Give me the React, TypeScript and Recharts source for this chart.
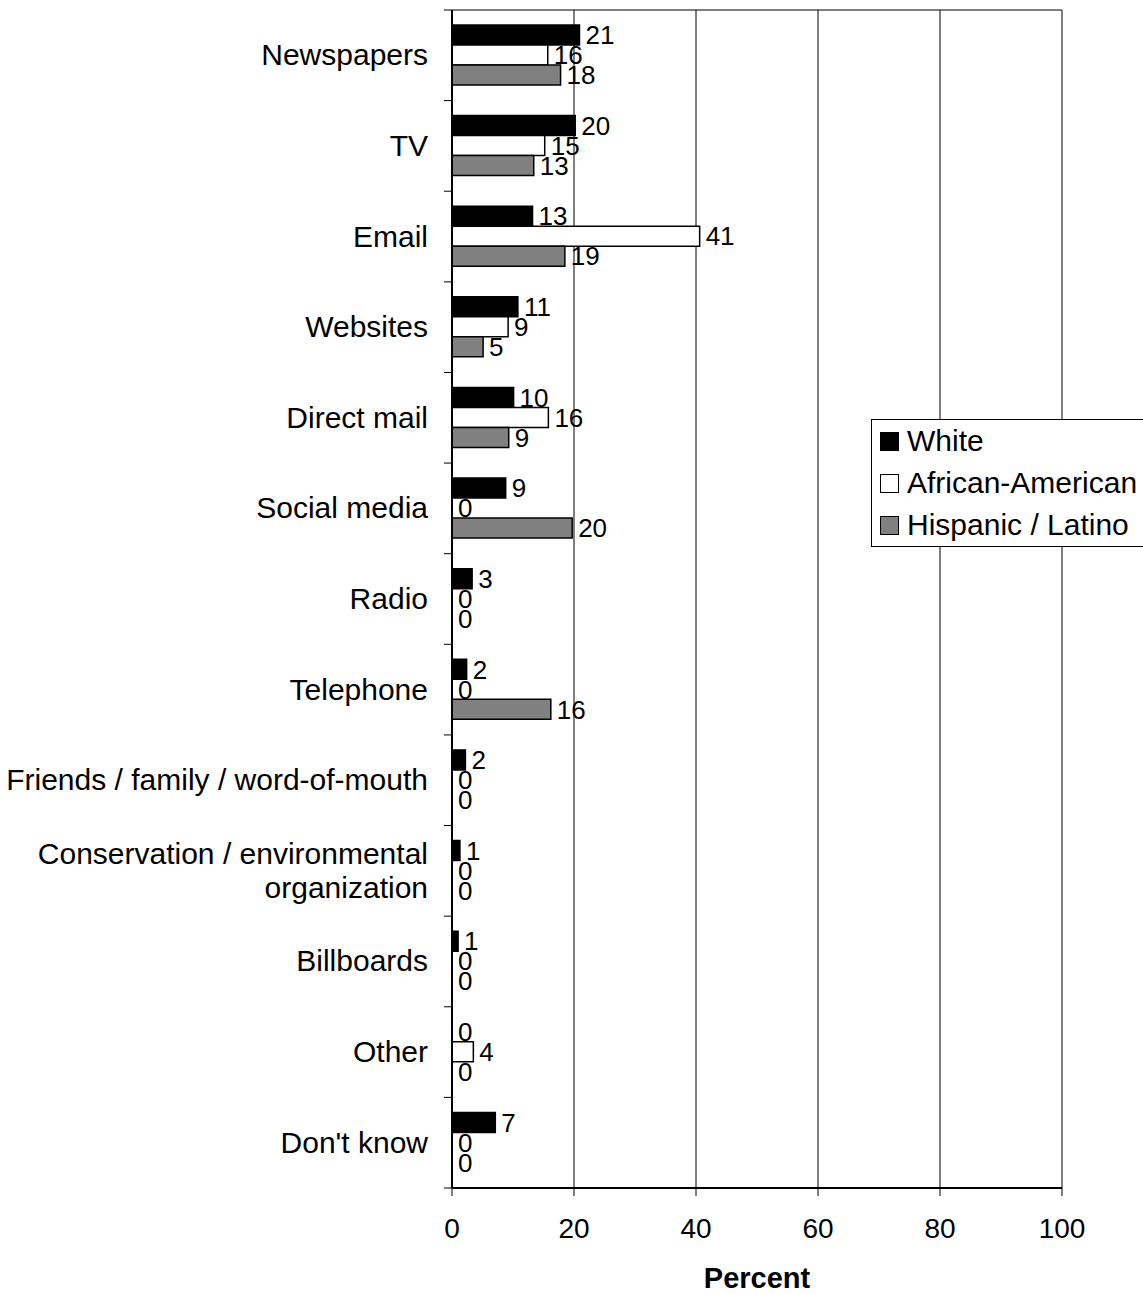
import React from "react";
import {
  BarChart,
  Bar,
  XAxis,
  YAxis,
  CartesianGrid,
  Legend,
  LabelList,
} from "recharts";

const categories = [
  "Newspapers",
  "TV",
  "Email",
  "Websites",
  "Direct mail",
  "Social media",
  "Radio",
  "Telephone",
  "Friends / family / word-of-mouth",
  "Conservation / environmental\norganization",
  "Billboards",
  "Other",
  "Don't know",
];

const white = [20.9, 20.2, 13.2, 10.8, 10.1, 8.8, 3.3, 2.4, 2.2, 1.3, 1.0, 0, 7.1];
const africanAmerican = [15.7, 15.2, 40.6, 9.2, 15.8, 0, 0, 0, 0, 0, 0, 3.5, 0];
const hispanicLatino = [17.8, 13.4, 18.5, 5.1, 9.3, 19.7, 0, 16.2, 0, 0, 0, 0, 0];

const xTicks = [0, 20, 40, 60, 80, 100];

const seriesDefs = [
  { key: "white", name: "White", fill: "#000000" },
  { key: "african", name: "African-American", fill: "#ffffff" },
  { key: "hispanic", name: "Hispanic / Latino", fill: "#808080" },
];

const data = categories.map((c, i) => ({
  category: c,
  white: white[i],
  african: africanAmerican[i],
  hispanic: hispanicLatino[i],
}));

const FONT = "'Liberation Sans', Arial, Helvetica, sans-serif";
const W = 1143;
const H = 1294;
const MARGIN = { top: 10, right: 81, bottom: 0, left: 0 };
const Y_WIDTH = 452;
const X_HEIGHT = 106;
const PLOT_LEFT = MARGIN.left + Y_WIDTH;
const PLOT_HEIGHT = H - MARGIN.top - MARGIN.bottom - X_HEIGHT;
const BAND = PLOT_HEIGHT / categories.length;

const CategoryTick = (props: any) => {
  const { x, y, payload, index } = props;
  const lines = String(payload.value).split("\n");
  const lh = 34;
  return (
    <g>
      <line x1={PLOT_LEFT - 8} x2={PLOT_LEFT} y1={y - BAND / 2} y2={y - BAND / 2} stroke="#000" strokeWidth={1} />
      {index === categories.length - 1 && (
        <line x1={PLOT_LEFT - 8} x2={PLOT_LEFT} y1={y + BAND / 2} y2={y + BAND / 2} stroke="#000" strokeWidth={1} />
      )}
      <text x={x} y={y} textAnchor="end" fontFamily={FONT} fontSize={30} fill="#000">
        {lines.map((l, i) => (
          <tspan key={i} x={x} y={y + (i - (lines.length - 1) / 2) * lh + 10}>
            {l}
          </tspan>
        ))}
      </text>
    </g>
  );
};

const LegendContent = () => (
  <div
    style={{
      border: "1px solid #000",
      background: "#fff",
      fontFamily: FONT,
      fontSize: 30,
      color: "#000",
      width: 290,
      boxSizing: "border-box",
    }}
  >
    {seriesDefs.map((s) => (
      <div key={s.key} style={{ height: 42, display: "flex", alignItems: "center", whiteSpace: "nowrap" }}>
        <span
          style={{
            display: "inline-block",
            width: 17,
            height: 17,
            marginLeft: 8,
            marginRight: 8,
            background: s.fill,
            border: "1px solid #000",
          }}
        />
        <span>{s.name}</span>
      </div>
    ))}
  </div>
);

const borderRows = (p: any) => [p.offset.top, p.offset.top + p.offset.height];

export default function App() {
  return (
    <div style={{ position: "absolute", left: 0, top: 0, width: W, height: H, background: "#fff" }}>
      <BarChart
        width={W}
        height={H}
        data={data}
        layout="vertical"
        margin={MARGIN}
        barSize={20}
        barGap={0}
      >
        <CartesianGrid
          horizontal={true}
          vertical={true}
          stroke="#000"
          strokeWidth={1}
          horizontalCoordinatesGenerator={borderRows}
        />
        <XAxis
          type="number"
          domain={[0, 100]}
          ticks={xTicks}
          height={X_HEIGHT}
          tickSize={8}
          tickMargin={22}
          axisLine={{ stroke: "#000", strokeWidth: 2 }}
          tickLine={{ stroke: "#000" }}
          tick={{ fontFamily: FONT, fontSize: 28, fill: "#000" }}
          label={{
            value: "Percent",
            position: "insideBottom",
            offset: 6,
            fontFamily: FONT,
            fontSize: 29,
            fontWeight: "bold",
            fill: "#000",
          }}
        />
        <YAxis
          type="category"
          dataKey="category"
          width={Y_WIDTH}
          tickSize={8}
          tickMargin={16}
          tickLine={false}
          axisLine={{ stroke: "#000", strokeWidth: 2 }}
          tick={<CategoryTick />}
          interval={0}
        />
        <Legend
          layout="vertical"
          align="center"
          verticalAlign="middle"
          wrapperStyle={{ position: "absolute", left: 871, top: 419, width: 290 }}
          content={<LegendContent />}
        />
        {seriesDefs.map((s) => (
          <Bar
            key={s.key}
            dataKey={s.key}
            name={s.name}
            fill={s.fill}
            stroke="#000"
            strokeWidth={1.5}
            minPointSize={0.01}
            isAnimationActive={false}
          >
            <LabelList
              dataKey={s.key}
              position="right"
              offset={6}
              formatter={(v: any) => Math.round(Number(v))}
              style={{ fontFamily: FONT, fontSize: 26, fill: "#000" }}
            />
          </Bar>
        ))}
      </BarChart>
    </div>
  );
}
